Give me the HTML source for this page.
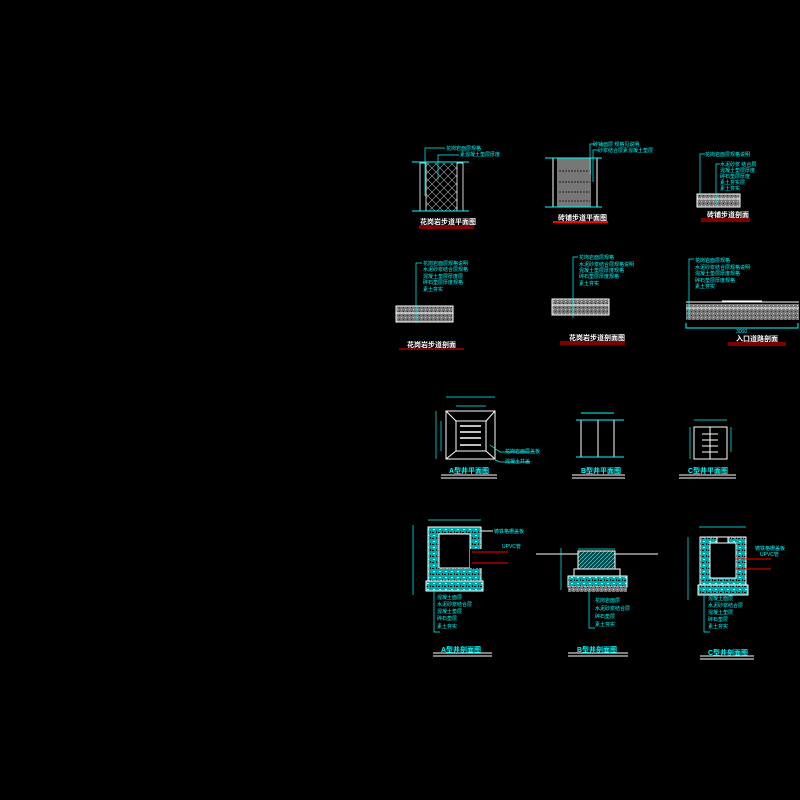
<!DOCTYPE html>
<html><head><meta charset="utf-8"><style>
html,body{margin:0;padding:0;background:#000;width:800px;height:800px;overflow:hidden}
svg{display:block}
text{font-family:"Liberation Sans","Noto Sans CJK SC",sans-serif}
.c{fill:#0ff;font-size:5px}
.t{fill:#fff;font-size:7px;font-weight:bold}
.tc{fill:#0ff;font-size:7px;font-weight:bold}
</style></head><body>
<svg width="800" height="800" viewBox="0 0 800 800">
<defs>
<pattern id="dia" width="8" height="8" patternUnits="userSpaceOnUse"><path d="M0 0L8 8M8 0L0 8" stroke="#aaa" stroke-width=".6"/></pattern>
<pattern id="spk" width="6" height="6" patternUnits="userSpaceOnUse"><rect width="6" height="6" fill="#0aa"/><rect x="1" y="1" width="2" height="1" fill="#fff"/><rect x="4" y="3" width="1" height="2" fill="#000"/><rect x="0" y="4" width="2" height="1" fill="#000"/></pattern>
<pattern id="gr" width="4" height="4" patternUnits="userSpaceOnUse"><rect width="4" height="4" fill="#777"/><rect x="1" y="1" width="1" height="1" fill="#ccc"/><rect x="3" y="3" width="1" height="1" fill="#333"/></pattern>
<pattern id="hat" width="4" height="4" patternUnits="userSpaceOnUse"><rect width="4" height="4" fill="#044"/><path d="M0 4L4 0" stroke="#0ff" stroke-width=".7"/></pattern>
</defs>
<g fill="none" stroke-width="1">
<!-- Panel 1 -->
<rect x="426" y="163" width="31" height="48" fill="url(#dia)"/>
<rect x="420" y="163" width="6" height="48" stroke="#fff" stroke-width=".8"/>
<rect x="457" y="163" width="6" height="48" stroke="#fff" stroke-width=".8"/>
<line x1="412" y1="162" x2="469" y2="162" stroke="#0ff"/><line x1="412" y1="211" x2="469" y2="211" stroke="#0ff"/>
<path d="M425 196V148H445M438 180V155H459" stroke="#0ff" stroke-width=".7"/>
<line x1="419" y1="226" x2="474" y2="226" stroke="#f00"/><line x1="419" y1="228" x2="474" y2="228" stroke="#f00"/>
<!-- Panel 2 -->
<rect x="557" y="158" width="34" height="49" fill="#777"/>
<path d="M559 171H590M559 182H590M559 192H590M559 201H590" stroke="#222" stroke-dasharray="2 1"/>
<line x1="553" y1="158" x2="553" y2="207" stroke="#fff"/><line x1="597" y1="158" x2="597" y2="207" stroke="#fff"/>
<line x1="545" y1="158" x2="602" y2="158" stroke="#0ff"/><line x1="545" y1="207" x2="602" y2="207" stroke="#0ff"/>
<path d="M590 174V144H595M593 182V150H598" stroke="#0ff" stroke-width=".7"/>
<line x1="553" y1="222" x2="608" y2="222" stroke="#f00" stroke-width="2"/>
<!-- Panel 3 -->
<rect x="697" y="194" width="43" height="13" stroke="#fff" fill="url(#gr)"/>
<line x1="697" y1="199" x2="740" y2="199" stroke="#fff"/>
<path d="M700 194V154H705M716 206V164H720" stroke="#0ff" stroke-width=".7"/>
<line x1="701" y1="219" x2="750" y2="219" stroke="#f00"/><line x1="701" y1="221" x2="750" y2="221" stroke="#f00"/>
<!-- Row2 panel 4 -->
<rect x="396" y="306" width="57" height="16" stroke="#fff" fill="url(#gr)"/>
<line x1="396" y1="313" x2="453" y2="313" stroke="#fff"/>
<path d="M416 323V263H422" stroke="#0ff" stroke-width=".7"/>
<line x1="399" y1="349" x2="464" y2="349" stroke="#f00"/>
<!-- panel 5 -->
<rect x="552" y="299" width="57" height="16" stroke="#fff" fill="url(#gr)"/>
<line x1="552" y1="305" x2="609" y2="305" stroke="#fff"/>
<path d="M573 318V257H578" stroke="#0ff" stroke-width=".7"/>
<line x1="560" y1="342" x2="625" y2="342" stroke="#f00"/><line x1="560" y1="344" x2="625" y2="344" stroke="#f00"/>
<!-- panel 6 -->
<rect x="686" y="304" width="113" height="16" fill="url(#gr)"/>
<path d="M686 302H799M722 301H762M686 308H799" stroke="#fff"/>
<path d="M689 318V259H694" stroke="#0ff" stroke-width=".7"/>
<path d="M686 323V328H798V323" stroke="#0ff"/>
<line x1="728" y1="343" x2="786" y2="343" stroke="#f00"/><line x1="728" y1="345" x2="786" y2="345" stroke="#f00"/>
<!-- Row3 A plan -->
<rect x="446" y="411" width="49" height="48" stroke="#fff"/>
<rect x="456" y="421" width="30" height="30" stroke="#fff"/>
<path d="M446 411L456 421M495 411L486 421M446 459L456 451M495 459L486 451" stroke="#fff"/>
<path d="M460 426H481M460 432H481M460 438H481M460 445H481" stroke="#fff" stroke-width="1.5"/>
<path d="M446 397H495M456 406H486M436 411V459M441 421V451" stroke="#0ff" stroke-width=".7"/>
<path d="M490 445L500 452H530M495 460L500 462H530" stroke="#0ff" stroke-width=".7"/>
<line x1="441" y1="475" x2="497" y2="475" stroke="#fff"/><line x1="441" y1="478" x2="497" y2="478" stroke="#fff"/>
<!-- B plan -->
<path d="M581 420V457M598 420V457M614 420V457" stroke="#fff"/>
<path d="M576 420H624M576 457H624M581 413H614" stroke="#0ff"/>
<line x1="572" y1="475" x2="625" y2="475" stroke="#fff"/><line x1="572" y1="478" x2="625" y2="478" stroke="#fff"/>
<!-- C plan -->
<rect x="694" y="427" width="33" height="32" stroke="#fff"/>
<path d="M710 427V459M702 434H718M702 440H718M702 446H718M702 452H718" stroke="#fff"/>
<path d="M694 420H727M690 427V459M731 427V452" stroke="#0ff" stroke-width=".7"/>
<line x1="679" y1="475" x2="736" y2="475" stroke="#fff"/><line x1="679" y1="478" x2="736" y2="478" stroke="#fff"/>
<!-- A section -->
<rect x="428" y="527" width="53" height="54" fill="url(#spk)" stroke="#fff"/>
<rect x="439" y="534" width="31" height="34" fill="#000" stroke="#fff"/>
<rect x="470" y="549" width="12" height="19" fill="#000"/>
<rect x="426" y="581" width="57" height="10" fill="url(#spk)" stroke="#fff"/>
<path d="M428 520H481M413 525V595M434 590V632H440" stroke="#0ff" stroke-width=".7"/>
<path d="M472 552H508M472 563H508" stroke="#f00"/>
<path d="M481 531H493" stroke="#fff"/>
<line x1="433" y1="653" x2="492" y2="653" stroke="#fff"/><line x1="433" y1="656" x2="492" y2="656" stroke="#fff"/>
<!-- B section -->
<line x1="536" y1="554" x2="658" y2="554" stroke="#fff"/>
<rect x="578" y="551" width="37" height="18" fill="url(#hat)" stroke="#fff"/>
<rect x="574" y="569" width="46" height="7" stroke="#fff"/>
<rect x="568" y="576" width="59" height="11" fill="url(#spk)" stroke="#fff"/>
<rect x="568" y="587" width="59" height="5" fill="url(#gr)"/>
<path d="M578 549H615M561 548V590M589 590V628H595" stroke="#0ff" stroke-width=".7"/>
<line x1="568" y1="653" x2="628" y2="653" stroke="#fff"/><line x1="568" y1="656" x2="628" y2="656" stroke="#fff"/>
<!-- C section -->
<rect x="700" y="537" width="46" height="48" fill="url(#spk)" stroke="#fff"/>
<rect x="710" y="543" width="26" height="35" fill="#000" stroke="#fff"/>
<rect x="698" y="585" width="50" height="10" fill="url(#spk)" stroke="#fff"/>
<rect x="717" y="537" width="11" height="6" fill="#000" stroke="#fff"/>
<path d="M699 527H746M688 537V600M704 595V632H710" stroke="#0ff" stroke-width=".7"/>
<path d="M735 559H771M735 569H771" stroke="#f00"/>
<line x1="700" y1="656" x2="754" y2="656" stroke="#fff"/><line x1="700" y1="659" x2="754" y2="659" stroke="#fff"/>
</g>
<!-- labels -->
<text class="c" x="446" y="150">花岗岩面层规格</text><text class="c" x="460" y="156">素混凝土垫层厚度</text>
<text class="c" x="593" y="146">砖铺面层 规格见说明</text><text class="c" x="598" y="152">砂浆结合层素混凝土垫层</text>
<text class="c" x="705" y="156">花岗岩面层规格说明</text>
<text class="c" x="720" y="166">水泥砂浆 结合层</text><text class="c" x="720" y="172">混凝土垫层厚度</text><text class="c" x="720" y="178">碎石垫层厚度</text><text class="c" x="720" y="184">素土夯实层</text><text class="c" x="720" y="190">素土夯实</text>
<text class="c" x="423" y="265">花岗岩面层规格说明</text><text class="c" x="423" y="271">水泥砂浆结合层规格</text><text class="c" x="423" y="278">混凝土垫层厚度层</text><text class="c" x="423" y="284">碎石垫层厚度规格</text><text class="c" x="423" y="291">素土夯实</text>
<text class="c" x="579" y="259">花岗岩面层规格</text><text class="c" x="579" y="266">水泥砂浆结合层规格说明</text><text class="c" x="579" y="272">混凝土垫层厚度规格</text><text class="c" x="579" y="278">碎石垫层厚度规格</text><text class="c" x="579" y="285">素土夯实</text>
<text class="c" x="695" y="262">花岗岩面层规格</text><text class="c" x="695" y="269">水泥砂浆结合层规格说明</text><text class="c" x="695" y="275">混凝土垫层厚度规格</text><text class="c" x="695" y="282">碎石垫层厚度规格</text><text class="c" x="695" y="288">素土夯实</text>
<text class="c" x="736" y="333">3000</text>
<text class="c" x="505" y="453">花岗岩面层盖板</text><text class="c" x="505" y="463">混凝土井盖</text>
<text class="c" x="494" y="533">铸铁格栅盖板</text><text class="c" x="502" y="548">UPVC管</text>
<text class="c" x="437" y="599">混凝土面层</text><text class="c" x="437" y="606">水泥砂浆结合层</text><text class="c" x="437" y="613">混凝土垫层</text><text class="c" x="437" y="620">碎石垫层</text><text class="c" x="437" y="628">素土夯实</text>
<text class="c" x="595" y="602">花岗岩面层</text><text class="c" x="595" y="610">水泥砂浆结合层</text><text class="c" x="595" y="618">碎石垫层</text><text class="c" x="595" y="626">素土夯实</text>
<text class="c" x="755" y="550">铸铁格栅盖板</text><text class="c" x="760" y="556">UPVC管</text>
<text class="c" x="708" y="600">混凝土面层</text><text class="c" x="708" y="607">水泥砂浆结合层</text><text class="c" x="708" y="614">混凝土垫层</text><text class="c" x="708" y="621">碎石垫层</text><text class="c" x="708" y="628">素土夯实</text>
<text class="t" x="420" y="224">花岗岩步道平面图</text>
<text class="t" x="558" y="220">砖铺步道平面图</text>
<text class="t" x="707" y="217">砖铺步道剖面</text>
<text class="t" x="407" y="347">花岗岩步道剖面</text>
<text class="t" x="569" y="340">花岗岩步道剖面图</text>
<text class="t" x="736" y="341">入口道路剖面</text>
<text class="tc" x="449" y="473">A型井平面图</text>
<text class="tc" x="581" y="473">B型井平面图</text>
<text class="tc" x="688" y="473">C型井平面图</text>
<text class="tc" x="441" y="652">A型井剖面图</text>
<text class="tc" x="577" y="652">B型井剖面图</text>
<text class="tc" x="708" y="655">C型井剖面图</text>
</svg>
</body></html>
